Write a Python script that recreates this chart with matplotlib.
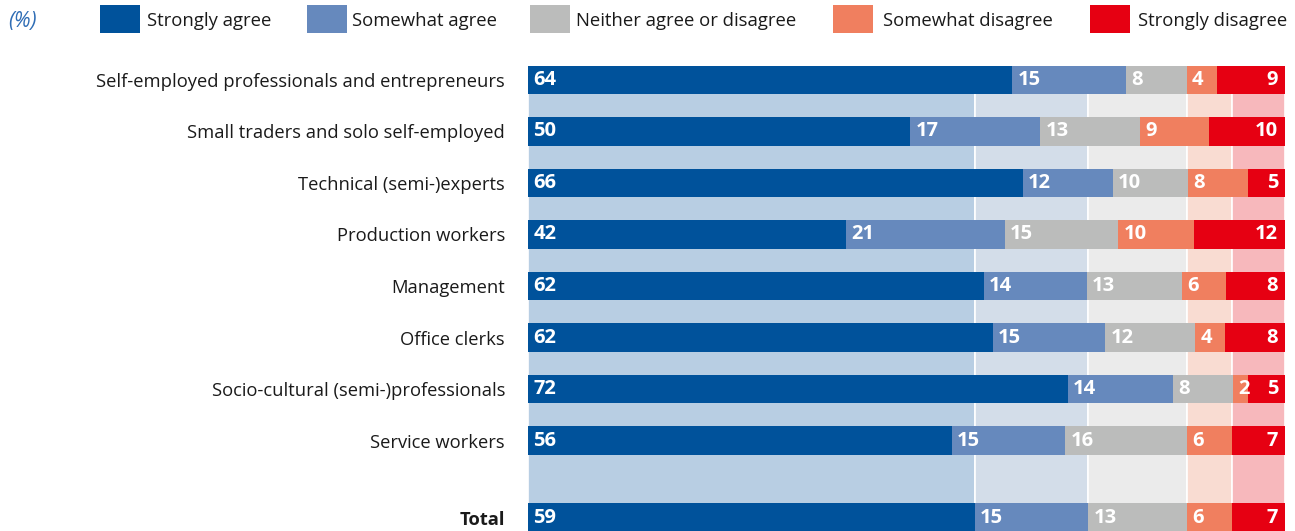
import matplotlib as mpl
mpl.use('Agg')
import matplotlib.pyplot as plt
from matplotlib.patches import Rectangle
import numpy as np

plt.rcParams['font.family'] = ['Open Sans', 'DejaVu Sans']

groups = ['Self-employed professionals and entrepreneurs',
          'Small traders and solo self-employed',
          'Technical (semi-)experts',
          'Production workers',
          'Management',
          'Office clerks',
          'Socio-cultural (semi-)professionals',
          'Service workers',
          'Total']
answers = ['Strongly agree', 'Somewhat agree', 'Neither agree or disagree',
           'Somewhat disagree', 'Strongly disagree']
strongly_agree    = [64, 50, 66, 42, 62, 62, 72, 56, 59]
somewhat_agree    = [15, 17, 12, 21, 14, 15, 14, 15, 15]
neither           = [8, 13, 10, 15, 13, 12, 8, 16, 13]
somewhat_disagree = [4, 9, 8, 10, 6, 4, 2, 6, 6]
strongly_disagree = [9, 10, 5, 12, 8, 8, 5, 7, 7]

colors = ['#00529b', '#6689bd', '#bbbcbb', '#f07f5f', '#e60012']
light = ['#b8cee3', '#d3dde9', '#ebebeb', '#f9dcd2', '#f7b8bc']

data = np.array([strongly_agree, somewhat_agree, neither,
                 somewhat_disagree, strongly_disagree])
# rounded labels, bars drawn as shares of 100
share = data / data.sum(axis=0) * 100
ypos = np.r_[np.arange(8), 8.5]
h = 0.56

fig = plt.figure(figsize=(12.95, 5.31), dpi=100)
ax = fig.add_axes([528 / 1295, 0, 757 / 1295, 1])
ax.set_xlim(0, 100)
ax.set_ylim(8.757, -1.553)

# background columns from the total row
tot = share[:, -1]
left = 0
bg_top = ypos[0] - h / 2
for k in range(5):
    ax.add_patch(Rectangle((left, bg_top), tot[k], 8.757 - bg_top,
                           facecolor=light[k], edgecolor='white', lw=1.2, zorder=1))
    left += tot[k]

# stacked bars
lefts = np.zeros(len(groups))
for k in range(5):
    ax.barh(ypos, share[k], left=lefts, height=h, color=colors[k], zorder=2)
    for i in range(len(groups)):
        if k < 4:
            ax.text(lefts[i] + 0.7, ypos[i], str(data[k, i]), color='white',
                    fontsize=14.5, fontweight='bold', ha='left', va='center', zorder=3)
        else:
            ax.text(lefts[i] + share[k, i] - 0.9, ypos[i], str(data[k, i]), color='white',
                    fontsize=14.5, fontweight='bold', ha='right', va='center', zorder=3)
    lefts += share[k]

ax.set_yticks(ypos)
ax.set_yticklabels(groups, fontsize=13.2, color='#1a1a1a')
ax.get_yticklabels()[-1].set_fontweight('bold')
ax.tick_params(axis='y', length=0, pad=16.5)
ax.set_xticks([])
for s in ax.spines.values():
    s.set_visible(False)

# legend
fig.text(8 / 1295, 1 - 21 / 531, '(%)', color='#2f6db5', fontsize=15,
         style='italic', va='center', ha='left')
patch_x = [100, 307, 530, 833, 1090]
text_x = [147, 352, 576, 883, 1138]
for k in range(5):
    fig.patches.append(Rectangle((patch_x[k] / 1295, 1 - 33 / 531), 40 / 1295, 28 / 531,
                                 transform=fig.transFigure, facecolor=colors[k],
                                 edgecolor='none'))
    fig.text(text_x[k] / 1295, 1 - 21 / 531, answers[k], fontsize=13.3,
             color='#1a1a1a', va='center', ha='left')

fig.savefig('out.png', dpi=100)
